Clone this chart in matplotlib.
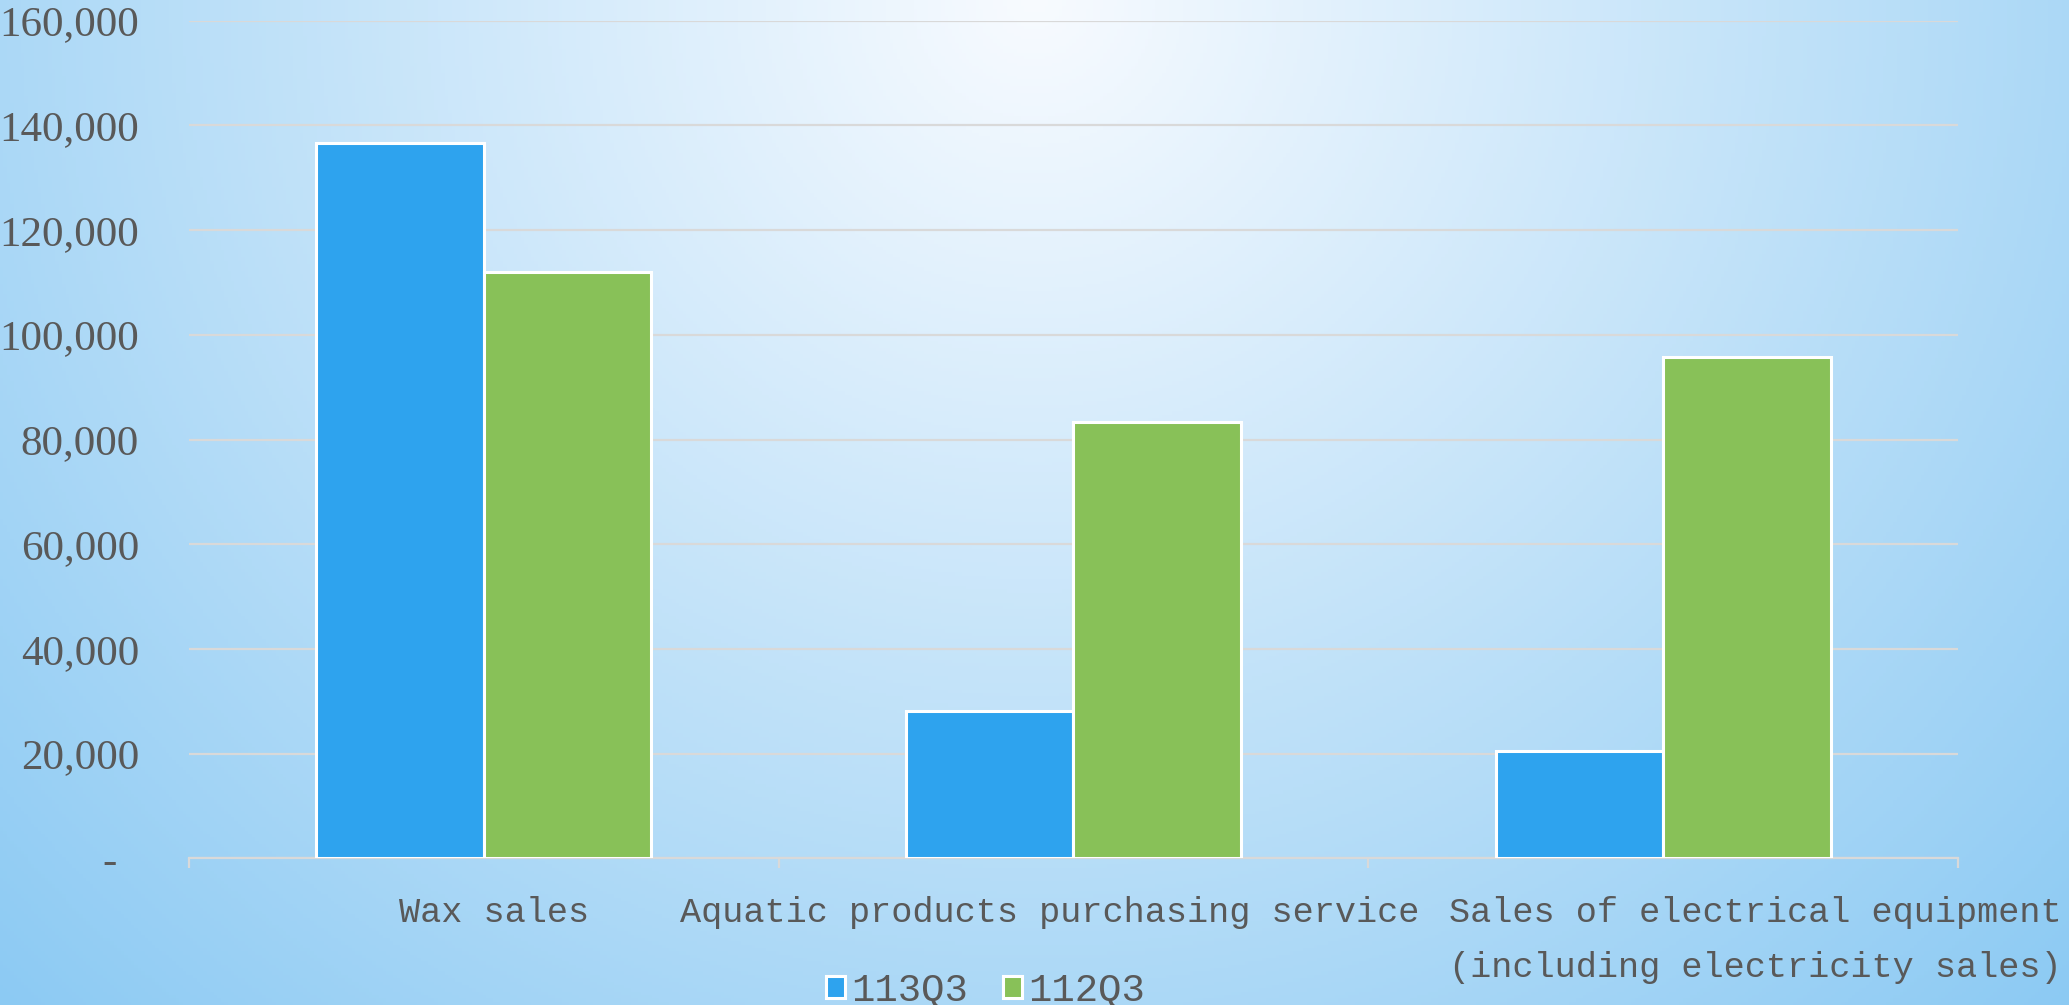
import numpy as np
import matplotlib
matplotlib.use("Agg")
import matplotlib.pyplot as plt
import matplotlib.transforms as mtransforms
from matplotlib.ticker import FixedLocator, FuncFormatter
from matplotlib.font_manager import FontProperties

# ---------------- data ----------------
categories = ["Wax sales",
              "Aquatic products purchasing service",
              "Sales of electrical equipment\n(including electricity sales)"]
series_names = ["113Q3", "112Q3"]
values_113q3 = [136700, 28200, 20600]
values_112q3 = [112000, 83400, 95700]
y_ticks = [0, 20000, 40000, 60000, 80000, 100000, 120000, 140000, 160000]

# ---------------- style ----------------
W, H = 2069, 1005
TEXT = "#595959"
BLUE = "#2EA3EE"
GREEN = "#88C158"
GRID = "#D9D9D9"

fig = plt.figure(figsize=(W / 100, H / 100), dpi=100)

# background radial gradient
bg = fig.add_axes([0, 0, 1, 1], zorder=-10)
xx, yy = np.meshgrid(np.linspace(0, 1, 600), np.linspace(0, 1, 300))
d = np.sqrt(((xx - 0.5) / 0.5) ** 2 + ((yy - 0.0) / 1.0) ** 2) / np.sqrt(2)
d = np.clip(d, 0, 1)
c0 = np.array([248, 251, 255]) / 255.0
c1 = np.array([140, 202, 243]) / 255.0
img = c0[None, None, :] * (1 - d[..., None]) + c1[None, None, :] * d[..., None]
bg.imshow(img, extent=[0, 1, 0, 1], aspect="auto", origin="upper")
bg.set_axis_off()

ax = fig.add_axes([0.0913, 0.1458, 0.8550, 0.8337])
ax.patch.set_alpha(0)

x = np.arange(len(categories))
bw = 0.284
b1 = ax.bar(x - bw / 2, values_113q3, bw, color=BLUE, edgecolor="white",
            linewidth=2.2, zorder=3)
b2 = ax.bar(x + bw / 2, values_112q3, bw, color=GREEN, edgecolor="white",
            linewidth=2.2, zorder=3)

ax.set_xlim(-0.5, len(categories) - 0.5)
ax.set_ylim(0, 160000)

# grid
ax.yaxis.set_major_locator(FixedLocator(y_ticks))
ax.yaxis.grid(True, color=GRID, linewidth=1.6)
ax.set_axisbelow(True)

def yfmt(v, pos):
    if v == 0:
        return "-  "
    return f"{int(v):,}"

ax.yaxis.set_major_formatter(FuncFormatter(yfmt))
ax.tick_params(axis="y", length=0, pad=36, labelsize=31, labelcolor=TEXT)
for lab in ax.get_yticklabels():
    lab.set_family("Liberation Serif")

# spines
for s in ["top", "right", "left"]:
    ax.spines[s].set_visible(False)
ax.spines["bottom"].set_color(GRID)
ax.spines["bottom"].set_linewidth(1.6)

# x ticks: boundaries as minor ticks
ax.set_xticks([])
ax.set_xticks(np.arange(len(categories) + 1) - 0.5, minor=True)
ax.tick_params(axis="x", which="minor", length=7, width=1.6, color=GRID,
               direction="out", labelbottom=False)

# category labels
offsets_px = [10, -24, 92]
for i, (cat, dx) in enumerate(zip(categories, offsets_px)):
    tr = ax.get_xaxis_transform() + mtransforms.ScaledTranslation(
        dx / 100, -38 / 100, fig.dpi_scale_trans)
    ax.text(i, 0, cat, transform=tr, ha="center", va="top",
            family="Liberation Mono", fontsize=25.4, color=TEXT,
            linespacing=1.82, multialignment="center")

# legend
leg = ax.legend(handles=[b1, b2], labels=series_names, loc="center",
                bbox_to_anchor=(0.4763, 0.014), bbox_transform=fig.transFigure,
                ncol=2, frameon=False,
                prop=FontProperties(family="Liberation Mono", size=28),
                handlelength=0.5, handleheight=0.5, handletextpad=0.15,
                columnspacing=0.9, borderpad=0, borderaxespad=0)
for t in leg.get_texts():
    t.set_color(TEXT)

fig.savefig("out.png", dpi=100)
